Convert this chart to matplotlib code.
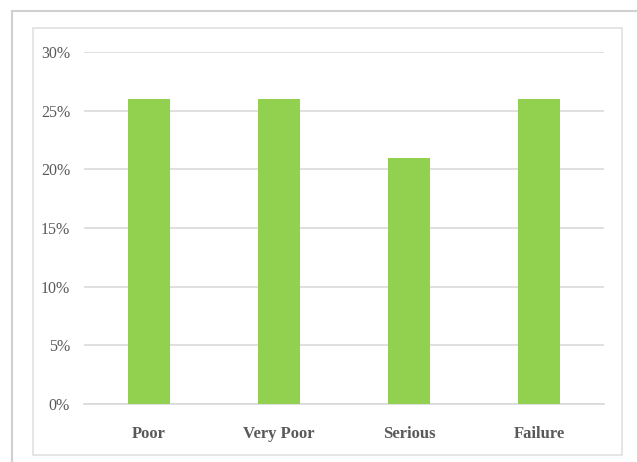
import matplotlib
matplotlib.use("Agg")
import matplotlib.pyplot as plt
from matplotlib.lines import Line2D
from matplotlib.patches import Rectangle
from matplotlib.ticker import FuncFormatter

categories = ["Poor", "Very Poor", "Serious", "Failure"]
values = [26, 26, 21, 26]
yticks = [0, 5, 10, 15, 20, 25, 30]

W, H = 637, 462
fig = plt.figure(figsize=(W / 100, H / 100), dpi=100)
fig.patch.set_facecolor("white")

# outer frame (top and left edges) and inner chart border
fig.add_artist(Line2D([12 / W, 12 / W], [0, 1 - 11 / H], transform=fig.transFigure,
                      color="#d0d0d0", lw=1.5))
fig.add_artist(Line2D([12 / W, 1], [1 - 11 / H, 1 - 11 / H], transform=fig.transFigure,
                      color="#d0d0d0", lw=1.5))
fig.add_artist(Rectangle((33 / W, 1 - 455 / H), (622 - 33) / W, (455 - 28) / H,
                         transform=fig.transFigure, fill=False,
                         edgecolor="#e0e0e0", lw=1.2))

ax = fig.add_axes([84 / W, 1 - 404 / H, (604 - 84) / W, (404 - 52) / H])
x = range(len(categories))
ax.bar(x, values, width=0.32, color="#92D050", zorder=3)
ax.set_xlim(-0.5, len(categories) - 0.5)
ax.set_ylim(0, 30)
ax.set_yticks(yticks)
ax.yaxis.set_major_formatter(FuncFormatter(lambda v, p: f"{int(v)}%"))
ax.set_xticks(list(x))
ax.set_xticklabels(categories, fontfamily="Liberation Serif", fontweight="bold",
                   fontsize=12, color="#595959")
for lbl in ax.get_yticklabels():
    lbl.set_fontfamily("Liberation Serif")
    lbl.set_fontsize(11.5)
    lbl.set_color("#595959")
ax.grid(axis="y", color="#d9d9d9", lw=1.2, zorder=0)
for s in ["top", "right", "left"]:
    ax.spines[s].set_visible(False)
ax.spines["bottom"].set_color("#d9d9d9")
ax.spines["bottom"].set_linewidth(1.2)
ax.tick_params(axis="both", length=0)
ax.tick_params(axis="y", pad=10)
ax.tick_params(axis="x", pad=16)

fig.savefig("out.png", dpi=100)
